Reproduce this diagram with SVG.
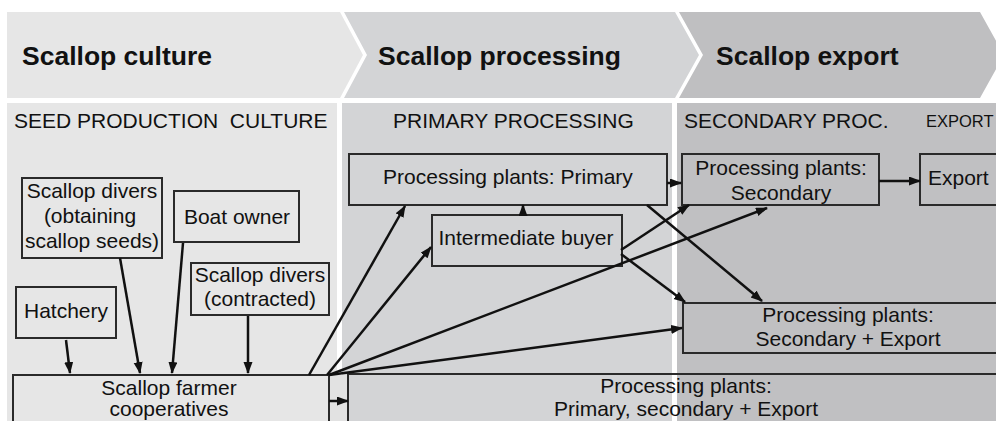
<svg xmlns="http://www.w3.org/2000/svg" width="996" height="421" viewBox="0 0 996 421">
<defs>
<marker id="ah" markerUnits="userSpaceOnUse" markerWidth="12" markerHeight="10" refX="11" refY="4.5" orient="auto">
<path d="M0,0 L12,4.5 L0,9 z" fill="#111"/>
</marker>
<style>
.hd{font-family:"Liberation Sans",Arial,sans-serif;font-size:26.5px;font-weight:bold;fill:#111}
.cl{font-family:"Liberation Sans",Arial,sans-serif;font-size:21px;fill:#111}
.tx{font-family:"Liberation Sans",Arial,sans-serif;font-size:21px;fill:#111;text-anchor:middle}
.bx{fill:none;stroke:#2a2a2a;stroke-width:2}
.ar{fill:none;stroke:#111;stroke-width:2.5;marker-end:url(#ah)}
</style>
</defs>
<rect width="996" height="421" fill="#fff"/>
<g id="headers">
<polygon points="7,12 340,12 363,55 340,98 7,98" fill="#e6e6e6"/>
<polygon points="344,12 675,12 699,55 675,98 344,98 367,55" fill="#d3d4d6"/>
<polygon points="679,12 980,12 1004,55 980,98 679,98 703,55" fill="#bfbfc1"/>
<text class="hd" x="22" y="65">Scallop culture</text>
<text class="hd" x="378" y="65">Scallop processing</text>
<text class="hd" x="716" y="65">Scallop export</text>
</g>
<g id="panels">
<rect x="7" y="103" width="330" height="318" fill="#e6e6e6"/>
<rect x="342" y="103" width="330" height="318" fill="#d3d4d6"/>
<rect x="677" y="103" width="319" height="318" fill="#c0c0c2"/>
<rect x="329" y="375" width="19" height="46" fill="#e2e2e2"/>
<text class="cl" x="14" y="128" xml:space="preserve">SEED PRODUCTION  CULTURE</text>
<text class="cl" x="393" y="128">PRIMARY PROCESSING</text>
<text class="cl" x="684" y="128">SECONDARY PROC.</text>
<text class="cl" x="926" y="127" style="font-size:16.5px">EXPORT</text>
</g>
<g id="hatchery"><rect class="bx" x="16" y="287" width="100" height="51"/><text class="tx" x="66" y="318">Hatchery</text></g>
<g id="divers-seeds"><rect class="bx" x="22" y="178" width="140" height="80"/><text class="tx" x="92" y="198">Scallop divers</text><text class="tx" x="90" y="223">(obtaining</text><text class="tx" x="92" y="248">scallop seeds)</text></g>
<g id="boat-owner"><rect class="bx" x="174" y="191" width="125" height="51"/><text class="tx" x="237" y="224">Boat owner</text></g>
<g id="divers-contracted"><rect class="bx" x="191" y="263" width="138" height="52"/><text class="tx" x="260" y="282">Scallop divers</text><text class="tx" x="260" y="306">(contracted)</text></g>
<g id="coop"><rect class="bx" x="13" y="375" width="316" height="60"/><text class="tx" x="169" y="395">Scallop farmer</text><text class="tx" x="169" y="416">cooperatives</text></g>
<g id="primary"><rect class="bx" x="349" y="154" width="318" height="51"/><text class="tx" x="508" y="184">Processing plants: Primary</text></g>
<g id="intermediate"><rect class="bx" x="432" y="215" width="190" height="51"/><text class="tx" x="526" y="245">Intermediate buyer</text></g>
<g id="secondary"><rect class="bx" x="682" y="154" width="197" height="51"/><text class="tx" x="781" y="175">Processing plants:</text><text class="tx" x="781" y="200">Secondary</text></g>
<g id="export"><rect class="bx" x="920" y="154" width="100" height="51"/><text class="cl" x="928" y="185">Export</text></g>
<g id="secondary-export"><rect class="bx" x="683" y="303" width="330" height="50"/><text class="tx" x="848" y="322">Processing plants:</text><text class="tx" x="848" y="346">Secondary + Export</text></g>
<g id="primary-secondary-export"><rect class="bx" x="348" y="374" width="660" height="60"/><text class="tx" x="686" y="393">Processing plants:</text><text class="tx" x="686" y="416">Primary, secondary + Export</text></g>
<g id="connectors">
<path class="ar" d="M66,340 L70,373"/>
<path class="ar" d="M120,258 L140,373"/>
<path class="ar" d="M183,243 L172,373"/>
<path class="ar" d="M248,316 L248,373"/>
<path class="ar" d="M309,375 L405,206"/>
<path class="ar" d="M327,375 L431,247"/>
<path class="ar" d="M329,375 L767,208"/>
<path class="ar" d="M329,375 L682,328"/>
<path class="ar" d="M329,401 L348,401"/>
<path class="ar" d="M523,216 L523,205"/>
<path class="ar" d="M667,183 L681,183"/>
<path class="ar" d="M879,181 L920,181"/>
<path class="ar" d="M621,250 L689,205"/>
<path class="ar" d="M621,254 L685,302"/>
<path class="ar" d="M647,205 L762,301"/>
</g>
</svg>
